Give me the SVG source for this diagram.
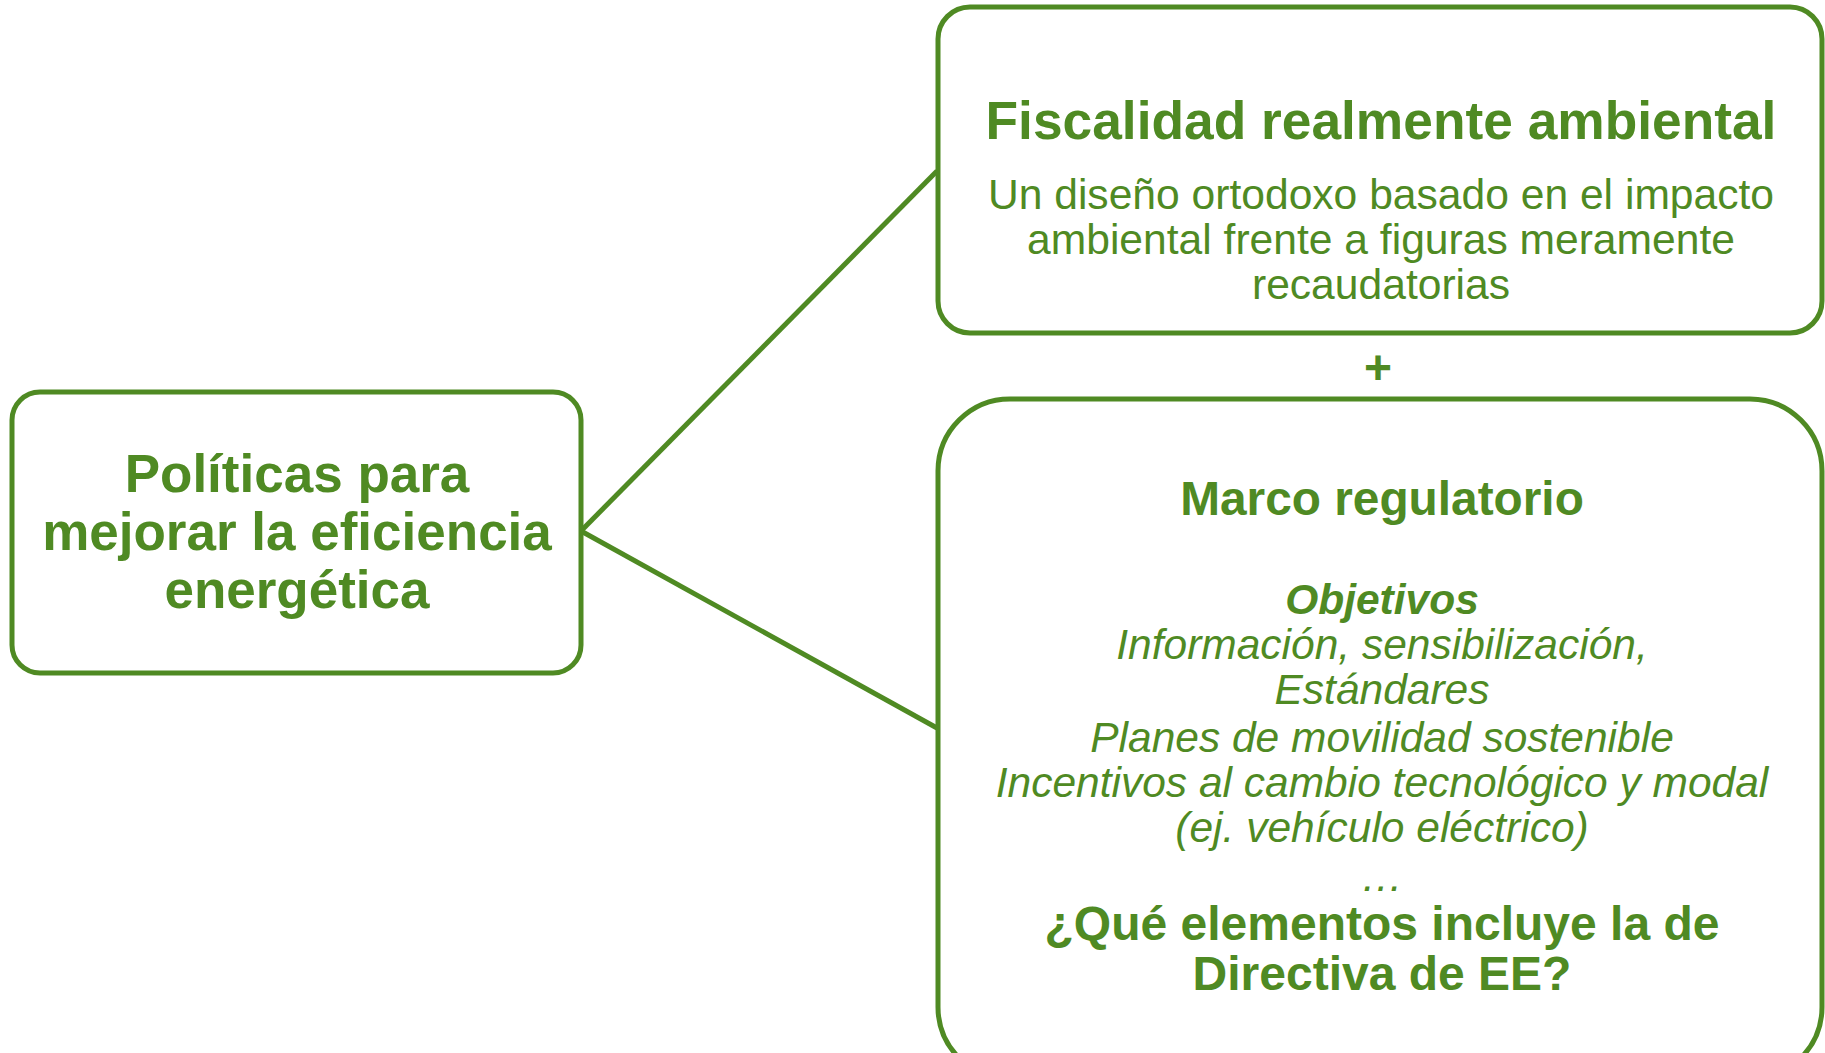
<svg xmlns="http://www.w3.org/2000/svg" width="1825" height="1053" viewBox="0 0 1825 1053">
<style>
.box{fill:#ffffff;stroke:#4f8a23;stroke-width:5}
.con{stroke:#4f8a23;stroke-width:5;fill:none}
text{fill:#4f8a23;font-family:"Liberation Sans",Arial,sans-serif;text-anchor:middle}
.b{font-weight:bold}
.i{font-style:italic}
</style>
<rect width="1825" height="1053" fill="#ffffff"/>
<g id="connectors">
<line class="con" x1="581" y1="531" x2="937" y2="171"/>
<line class="con" x1="581" y1="531" x2="937" y2="728"/>
</g>
<g id="node-politicas">
<rect class="box" x="12" y="392" width="569" height="281" rx="28"/>
<text class="b" font-size="53" x="297" y="492">Políticas para</text>
<text class="b" font-size="53" x="297" y="550">mejorar la eficiencia</text>
<text class="b" font-size="53" x="297" y="608">energética</text>
</g>
<g id="node-fiscalidad">
<rect class="box" x="938" y="7" width="884" height="326" rx="32"/>
<text class="b" font-size="53.3" x="1381" y="139">Fiscalidad realmente ambiental</text>
<text font-size="42.6" x="1381" y="209">Un diseño ortodoxo basado en el impacto</text>
<text font-size="42.6" x="1381" y="254">ambiental frente a figuras meramente</text>
<text font-size="42.6" x="1381" y="299">recaudatorias</text>
</g>
<g id="plus">
<text class="b" font-size="48" x="1378" y="384">+</text>
</g>
<g id="node-marco">
<rect class="box" x="938" y="399" width="884" height="680" rx="72"/>
<text class="b" font-size="47.8" x="1382" y="515">Marco regulatorio</text>
<text class="b i" font-size="42.5" x="1382" y="614">Objetivos</text>
<text class="i" font-size="42.5" x="1382" y="659">Información, sensibilización,</text>
<text class="i" font-size="42.5" x="1382" y="704">Estándares</text>
<text class="i" font-size="42.5" x="1382" y="752">Planes de movilidad sostenible</text>
<text class="i" font-size="42.5" x="1382" y="797">Incentivos al cambio tecnológico y modal</text>
<text class="i" font-size="42.5" x="1382" y="842">(ej. vehículo eléctrico)</text>
<text class="i" font-size="42.5" x="1382" y="891">…</text>
<text class="b" font-size="48" x="1382" y="940">¿Qué elementos incluye la de</text>
<text class="b" font-size="48" x="1382" y="990">Directiva de EE?</text>
</g>
</svg>
